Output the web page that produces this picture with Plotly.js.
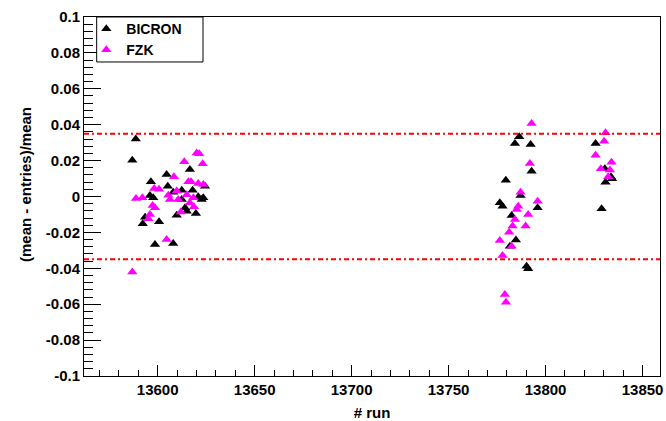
<!DOCTYPE html>
<html>
<head>
<meta charset="utf-8">
<script src="https://cdn.plot.ly/plotly-3.0.1.min.js"></script>
<style>
  html, body { margin: 0; padding: 0; background: #fff; }
  #plot { width: 666px; height: 421px; }
</style>
</head>
<body>
<div id="plot"></div>
<script>
// Run-by-run relative deviation (mean - entries)/mean for the two scintillator sets.
var bicronRun = [
  13586.9, 13588.7,
  13604.6, 13616.6, 13596.5, 13605.2, 13612.4, 13618.0, 13624.4, 13608.0,
  13596.0, 13597.7, 13612.4, 13620.9, 13622.7, 13623.5, 13614.1, 13615.0,
  13619.7, 13609.8, 13593.5, 13592.3, 13600.7, 13598.6, 13608.0,
  13786.4, 13784.2, 13792.3, 13792.8, 13779.5, 13776.4, 13777.8, 13787.1,
  13795.9, 13782.5, 13784.7, 13781.6, 13790.2, 13791.0,
  13825.8, 13830.6, 13833.7, 13834.3, 13830.9, 13828.9
];
var bicronDev = [
  0.0202, 0.0321,
  0.0123, 0.0150, 0.0082, 0.0057, 0.0035, 0.0035, 0.0057, 0.0024,
  0.0006, -0.0007, -0.0017, -0.0002, -0.0017, -0.0007, -0.0063, -0.0082,
  -0.0095, -0.0104, -0.0115, -0.0152, -0.0141, -0.0267, -0.0262,
  0.0333, 0.0295, 0.0290, 0.0141, 0.0091, -0.0035, -0.0054, 0.0006,
  -0.0063, -0.0106, -0.0243, -0.0277, -0.0388, -0.0403,
  0.0295, 0.0154, 0.0110, 0.0099, 0.0080, -0.0068
];

var fzkRun = [
  13586.9,
  13620.1, 13621.4, 13623.2, 13613.7, 13608.4, 13615.8, 13617.2, 13620.9,
  13623.5, 13598.2, 13600.7, 13609.8, 13615.0, 13588.8, 13592.1, 13605.5,
  13606.3, 13610.6, 13618.4, 13616.6, 13618.7, 13597.4, 13598.6, 13611.9,
  13596.0, 13595.2, 13604.6,
  13792.8, 13791.9, 13787.1, 13795.9, 13785.9, 13785.1, 13791.0, 13784.2,
  13789.7, 13783.0, 13781.2, 13776.4, 13782.5, 13777.8, 13779.0, 13779.6,
  13830.9, 13830.2, 13825.8, 13834.0, 13828.5, 13833.2, 13832.3
];
var fzkDev = [
  -0.0420,
  0.0243, 0.0238, 0.0182, 0.0193, 0.0110, 0.0082, 0.0082, 0.0072,
  0.0067, 0.0045, 0.0040, 0.0030, 0.0010, -0.0011, -0.0007, 0.0007,
  -0.0017, -0.0017, -0.0007, -0.0035, -0.0057, -0.0050, -0.0063, -0.0087,
  -0.0100, -0.0124, -0.0240,
  0.0407, 0.0184, 0.0024, -0.0026, -0.0054, -0.0072, -0.0100, -0.0128,
  -0.0165, -0.0165, -0.0199, -0.0245, -0.0277, -0.0329, -0.0546, -0.0589,
  0.0355, 0.0308, 0.0230, 0.0191, 0.0154, 0.0147, 0.0110
];

// Acceptance band limits
var bandLimits = [0.035, -0.035];

// Axis tick labels
var yTickVals = [0.1, 0.08, 0.06, 0.04, 0.02, 0, -0.02, -0.04, -0.06, -0.08, -0.1];
var yTickText = ["0.1", "0.08", "0.06", "0.04", "0.02", "0", "-0.02", "-0.04", "-0.06", "-0.08", "-0.1"];
var xTickVals = [13600, 13650, 13700, 13750, 13800, 13850];
var xTickText = ["13600", "13650", "13700", "13750", "13800", "13850"];

var FONT = "Liberation Sans, Arial, Helvetica, sans-serif";

var traces = [
  {
    type: "scatter", mode: "markers", name: "BICRON",
    x: bicronRun, y: bicronDev,
    marker: { symbol: "triangle-up", size: 9, color: "#000000" },
    cliponaxis: true
  },
  {
    type: "scatter", mode: "markers", name: "FZK",
    x: fzkRun, y: fzkDev,
    marker: { symbol: "triangle-up", size: 9, color: "#ff00ff" },
    cliponaxis: true
  }
];

var shapes = bandLimits.map(function (v) {
  return {
    type: "line", xref: "paper", yref: "y",
    x0: 0, x1: 1, y0: v, y1: v,
    line: { color: "#ff0000", width: 2, dash: "5px,3px,2px,3px" }
  };
});

// Legend frame, hung from the top of the plot frame
shapes.push({
  type: "rect", xref: "paper", yref: "paper",
  x0: 0.022, x1: 0.2066, y0: 0.8747, y1: 1,
  line: { color: "#000000", width: 1 },
  fillcolor: "#ffffff", layer: "above"
});

var layout = {
  width: 666, height: 421,
  margin: { l: 84, r: 6, t: 17, b: 45, pad: 0 },
  paper_bgcolor: "#ffffff",
  plot_bgcolor: "#ffffff",
  font: { family: FONT, size: 15, color: "#000000", weight: "bold" },
  showlegend: true,
  legend: {
    x: 0.004, y: 1.011, xanchor: "left", yanchor: "top",
    bgcolor: "rgba(0,0,0,0)", borderwidth: 0,
    font: { family: FONT, size: 14, color: "#000000", weight: "bold" },
    tracegroupgap: 0,
    itemwidth: 30
  },
  xaxis: {
    range: [13562, 13859],
    showgrid: false, zeroline: false,
    showline: true, linecolor: "#000000", linewidth: 1, mirror: true,
    tickmode: "array", tickvals: xTickVals, ticktext: xTickText,
    ticks: "inside", ticklen: 11, tickwidth: 1, tickcolor: "#000000",
    minor: { ticks: "inside", tickmode: "linear", tick0: 13600, dtick: 10, ticklen: 6, tickwidth: 1, tickcolor: "#000000", showgrid: false },
    tickfont: { family: FONT, size: 15, weight: "bold" },
    title: { text: "# run", font: { family: FONT, size: 15, weight: "bold" }, standoff: 10 }
  },
  yaxis: {
    range: [-0.1, 0.1],
    showgrid: false, zeroline: false,
    showline: true, linecolor: "#000000", linewidth: 1, mirror: true,
    tickmode: "array", tickvals: yTickVals, ticktext: yTickText,
    ticks: "inside", ticklen: 17, tickwidth: 1, tickcolor: "#000000",
    minor: { ticks: "inside", tickmode: "linear", tick0: 0, dtick: 0.004, ticklen: 9, tickwidth: 1, tickcolor: "#000000", showgrid: false },
    tickfont: { family: FONT, size: 15, weight: "bold" }
  },
  annotations: [
    {
      text: "(mean - entries)/mean",
      xref: "paper", yref: "paper",
      x: -0.1024, y: 0.532, xanchor: "center", yanchor: "middle",
      textangle: -90, showarrow: false,
      font: { family: FONT, size: 15, weight: "bold", color: "#000000" }
    }
  ],
  shapes: shapes
};

Plotly.newPlot("plot", traces, layout, { displayModeBar: false, staticPlot: true });
</script>
</body>
</html>
